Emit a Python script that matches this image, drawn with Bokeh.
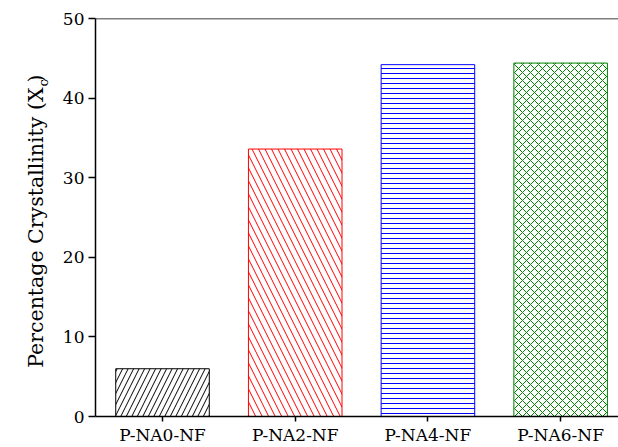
import math
from bokeh.plotting import figure
from bokeh.layouts import row
from bokeh.models import FixedTicker, Range1d, Span, ColumnDataSource
from bokeh.core.properties import value
from bokeh.embed import file_html
from bokeh.resources import INLINE

categories = ["P-NA0-NF", "P-NA2-NF", "P-NA4-NF", "P-NA6-NF"]
values = [6.0, 33.6, 44.2, 44.4]
colors = ["black", "red", "blue", "green"]
hatches = ["right_diagonal_line", "left_diagonal_line", "horizontal_line", "diagonal_cross"]
hatch_scales = [11, 13, 5, 8]
y_ticks = [0, 10, 20, 30, 40, 50]
y_title = "Percentage Crystallinity (X"
y_title_sub = "c"
y_title_end = ")"

positions = [i + 1 for i in range(len(categories))]
FONT = "DejaVu Serif"
W, H = 618, 447
LW = 50  # width of the title strip
TOP, BOTTOM = 18, 416  # frame edges in page pixels

X0, X1 = 0.495, 4.436
p = figure(width=W - LW, height=H, output_backend="svg", toolbar_location=None,
           x_range=Range1d(X0, X1), y_range=Range1d(0, 50),
           min_border_left=95 - LW, min_border_right=0, min_border_top=TOP,
           min_border_bottom=H - BOTTOM)
p.grid.visible = False
p.outline_line_color = None
p.background_fill_color = "white"
p.border_fill_color = "white"

src = ColumnDataSource(dict(x=positions, top=values, color=colors, hatch=hatches, hs=hatch_scales))
p.vbar(x="x", top="top", width=0.705, bottom=0, source=src,
       fill_color="white", line_color="color", line_width=1,
       hatch_pattern="hatch", hatch_color="color", hatch_scale="hs", hatch_weight=1)

for ax in (p.xaxis, p.yaxis):
    ax.axis_line_width = 1.5
    ax.axis_line_color = "black"
    ax.major_tick_line_width = 1.5
    ax.major_tick_in = 0
    ax.minor_tick_line_color = None
    ax.major_label_text_font = FONT
    ax.major_label_text_font_size = "17px"
    ax.major_label_text_color = "black"

p.yaxis.ticker = FixedTicker(ticks=y_ticks)
p.yaxis.major_tick_out = 7
p.yaxis.major_label_standoff = 4
p.xaxis.ticker = FixedTicker(ticks=positions)
p.xaxis.major_label_overrides = {pos: c for pos, c in zip(positions, categories)}
p.xaxis.major_tick_out = 5
p.xaxis.major_label_standoff = 3

p.add_layout(Span(location=50, dimension="width", line_color="black", line_width=1.5))

# title strip: its frame is aligned with the main frame (TOP..BOTTOM);
# range chosen so that data y = H - page_y
t = figure(width=LW, height=H, output_backend="svg", toolbar_location=None,
           x_range=Range1d(0, LW), y_range=Range1d(H - BOTTOM, H - TOP),
           min_border_left=0, min_border_right=0, min_border_top=TOP,
           min_border_bottom=H - BOTTOM)
t.axis.visible = False
t.grid.visible = False
t.outline_line_color = None
t.background_fill_color = "white"
t.border_fill_color = "white"
common = dict(angle=math.pi / 2, text_font=value(FONT), text_color="black",
              text_baseline="alphabetic")
t.text(x=[35], y=[H - 87], text=[y_title], text_font_size="20.5px", text_align="right", **common)
t.text(x=[43], y=[H - 86], text=[y_title_sub], text_font_size="13px", text_align="left", **common)
t.text(x=[35], y=[H - 82], text=[y_title_end], text_font_size="20.5px", text_align="left", **common)

layout = row(t, p, spacing=0)
open("out.html", "w").write(file_html(layout, INLINE))
